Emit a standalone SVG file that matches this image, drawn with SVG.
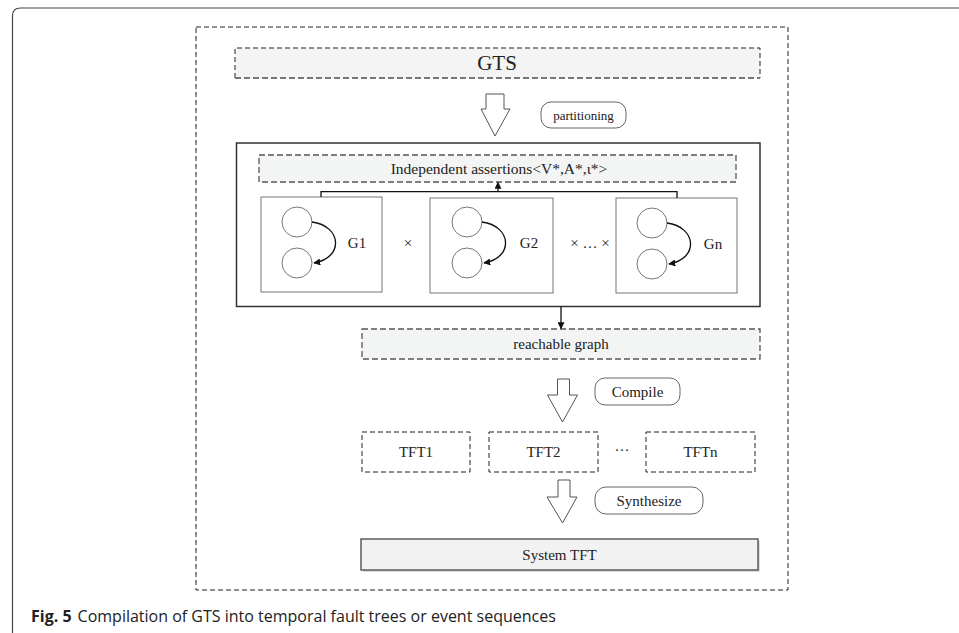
<svg xmlns="http://www.w3.org/2000/svg" width="959" height="633" viewBox="0 0 959 633">
<style>
.serif{font-family:"Liberation Serif","Times New Roman",serif;fill:#222}
.dashblk{fill:none;stroke:#222;stroke-width:1;stroke-dasharray:5 3}
.dashgray{stroke:#555;stroke-width:1.3;stroke-dasharray:6 3}
.pill{fill:#fff;stroke:#666;stroke-width:1}
.blk{fill:#fff;stroke:#555;stroke-width:1}
.gbox{fill:#fff;stroke:#777;stroke-width:1}
.circ{fill:#fff;stroke:#777;stroke-width:1}
.conn{fill:none;stroke:#111;stroke-width:1.3}
</style>
<defs>
<marker id="ah" viewBox="0 0 10 10" refX="9" refY="5" markerWidth="7" markerHeight="7" orient="auto" markerUnits="userSpaceOnUse">
<path d="M0,0 L10,5 L0,10 z" fill="#111"/>
</marker>
</defs>
<rect width="959" height="633" fill="#fff"/>
<!-- outer figure frame -->
<path d="M12.5,633 L12.5,16 Q12.5,8 20.5,8 L959,8" fill="none" stroke="#444" stroke-width="1.2"/>
<!-- outer dashed container -->
<rect x="196" y="27" width="592" height="563" class="dashblk"/>

<g id="gts">
<rect x="235" y="48" width="525" height="30" fill="#f3f4f3"/>
<path d="M235,78 L235,48 L760,48 L760,78" class="dashblk"/>
<line x1="235" y1="78" x2="760" y2="78" stroke="#777" stroke-width="2" stroke-dasharray="6 3"/>
<text x="497" y="70" text-anchor="middle" class="serif" font-size="21">GTS</text>
</g>

<g id="arrow-partition">
<path d="M486,94 L504,94 L504,109 L510,109 L495,136 L481,109 L486,109 Z" class="blk"/>
</g>
<g id="label-partitioning">
<rect x="541" y="102" width="85" height="26" rx="10" class="pill"/>
<text x="583.5" y="119.5" text-anchor="middle" class="serif" font-size="13">partitioning</text>
</g>

<g id="composition">
<rect x="236.5" y="143" width="523.5" height="163.5" fill="#fff" stroke="#333" stroke-width="1.5"/>
</g>

<g id="assertions">
<rect x="259" y="155" width="477" height="27" fill="#f3f5f4" class="dashgray"/>
<text x="499" y="173.5" text-anchor="middle" class="serif" font-size="15.5">Independent assertions&lt;V*,A*,ι*&gt;</text>
</g>

<g id="g1">
<rect x="261" y="197" width="121" height="95" class="gbox"/>
<circle cx="297" cy="222" r="15" class="circ"/>
<circle cx="297" cy="263" r="15" class="circ"/>
<text x="357" y="248" text-anchor="middle" class="serif" font-size="15">G1</text>
</g>
<g id="g2">
<rect x="430" y="198" width="123" height="95" class="gbox"/>
<circle cx="467" cy="222" r="15" class="circ"/>
<circle cx="467" cy="263" r="15" class="circ"/>
<text x="529" y="248" text-anchor="middle" class="serif" font-size="15">G2</text>
</g>
<g id="gn">
<rect x="616" y="198" width="121" height="95" class="gbox"/>
<circle cx="652" cy="223" r="15" class="circ"/>
<circle cx="652" cy="264" r="15" class="circ"/>
<text x="713" y="249" text-anchor="middle" class="serif" font-size="15">Gn</text>
</g>
<g id="products">
<text x="408" y="248" text-anchor="middle" class="serif" font-size="15">×</text>
<text x="590" y="248" text-anchor="middle" class="serif" font-size="15">× … ×</text>
</g>

<g id="reachable">
<rect x="362" y="329" width="398" height="30" fill="#f3f5f4" class="dashgray"/>
<text x="561" y="349" text-anchor="middle" class="serif" font-size="15">reachable graph</text>
</g>

<g id="arrow-compile">
<path d="M557.5,379 L569.5,379 L569.5,395 L577.5,395 L562.5,422 L547.5,395 L557.5,395 Z" class="blk"/>
</g>
<g id="label-compile">
<rect x="595" y="378" width="85" height="27" rx="10" class="pill"/>
<text x="637.5" y="397" text-anchor="middle" class="serif" font-size="15">Compile</text>
</g>

<g id="tft1">
<rect x="362" y="432" width="108" height="40" class="dashblk"/>
<text x="416" y="457" text-anchor="middle" class="serif" font-size="15">TFT1</text>
</g>
<g id="tft2">
<rect x="489" y="432" width="109" height="40" class="dashblk"/>
<text x="543.5" y="457" text-anchor="middle" class="serif" font-size="15">TFT2</text>
</g>
<text x="622" y="455" text-anchor="middle" class="serif" font-size="15">···</text>
<g id="tftn">
<rect x="646" y="432" width="109" height="40" class="dashblk"/>
<text x="700.5" y="457" text-anchor="middle" class="serif" font-size="15">TFTn</text>
</g>

<g id="arrow-synthesize">
<path d="M558,480 L570,480 L570,497 L577,497 L562.5,523 L547,497 L558,497 Z" class="blk"/>
</g>
<g id="label-synthesize">
<rect x="595" y="487" width="108" height="27" rx="11" class="pill"/>
<text x="649" y="505.5" text-anchor="middle" class="serif" font-size="15">Synthesize</text>
</g>

<g id="system-tft">
<rect x="363" y="541" width="397" height="31" fill="#ddd"/>
<rect x="361" y="539" width="397" height="31" fill="#f2f2f2" stroke="#444" stroke-width="1.3"/>
<text x="559.5" y="559.5" text-anchor="middle" class="serif" font-size="15">System TFT</text>
</g>

<g id="connectors">
<path d="M321,197 L321,191.7 L677,191.7 L677,198" class="conn"/>
<line x1="498" y1="191.7" x2="498" y2="182.5" class="conn" marker-end="url(#ah)"/>
<line x1="561" y1="306.5" x2="561" y2="328.5" class="conn" marker-end="url(#ah)"/>
<path d="M312,222 C342,226 344,258 314,263" class="conn" marker-end="url(#ah)"/>
<path d="M482,222 C512,226 514,258 484,263" class="conn" marker-end="url(#ah)"/>
<path d="M667,223 C697,227 699,259 669,264" class="conn" marker-end="url(#ah)"/>
</g>

<text x="31" y="622" font-family="'Open Sans','Noto Sans',sans-serif" font-size="16" fill="#222"><tspan font-weight="bold">Fig. 5</tspan><tspan dx="6">Compilation of GTS into temporal fault trees or event sequences</tspan></text>
</svg>
